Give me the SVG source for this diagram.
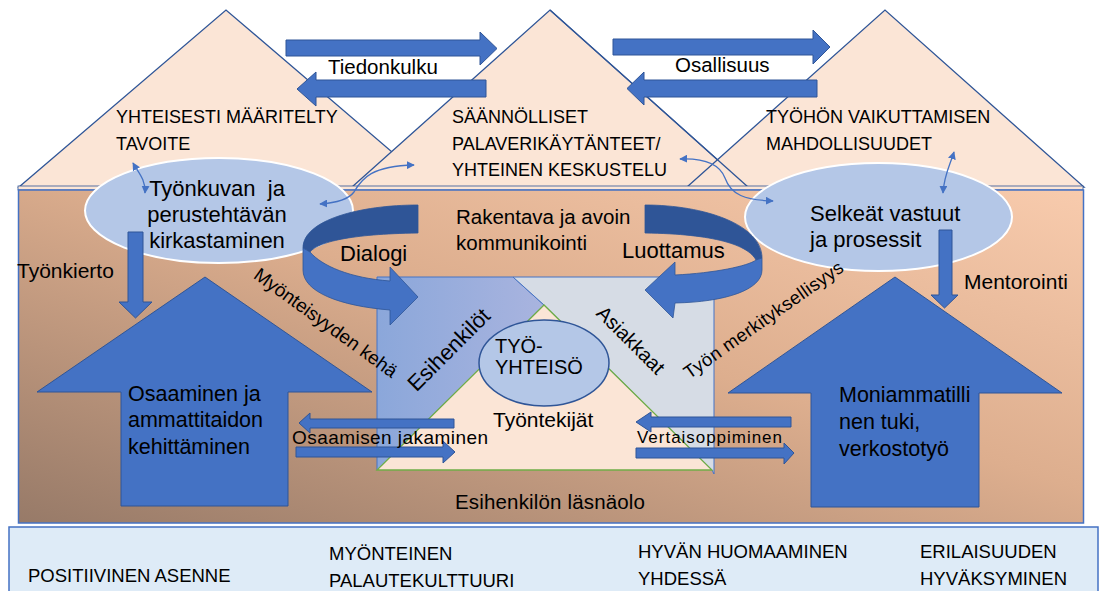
<svg xmlns="http://www.w3.org/2000/svg" width="1099" height="591" viewBox="0 0 1099 591">
<defs>
<linearGradient id="boxg" x1="1" y1="0" x2="0" y2="1">
<stop offset="0" stop-color="#F8CBAD"/>
<stop offset="0.45" stop-color="#DDAE8E"/>
<stop offset="1" stop-color="#977A68"/>
</linearGradient>
<linearGradient id="sqg" x1="0" y1="0" x2="1" y2="0">
<stop offset="0" stop-color="#8BA7DA"/>
<stop offset="1" stop-color="#A9B4DF"/>
</linearGradient>
<marker id="ah" viewBox="0 0 10 10" refX="9" refY="5" markerWidth="8" markerHeight="8" markerUnits="userSpaceOnUse" orient="auto-start-reverse">
<path d="M0,0 L10,5 L0,10 z" fill="#4472C4"/>
</marker>
<style>
.roof{fill:#FBE5D6;stroke:#2F5597;stroke-width:1.3}
.edge{fill:none;stroke:#2F5597;stroke-width:1.3}
.blk{fill:#4472C4;stroke:#2F5597;stroke-width:1}
.ell{fill:#B4C7E7;stroke:#FFFFFF;stroke-width:2}
.dark{fill:#2F5597;stroke:#2F5597;stroke-width:0.8}
.front{fill:#4472C4;stroke:#2F5597;stroke-width:0.8}
.con{fill:none;stroke:#4472C4;stroke-width:1.3;marker-start:url(#ah);marker-end:url(#ah)}
text{font-family:"Liberation Sans",Arial,sans-serif;fill:#000}
.s18{font-size:18px}
.s185{font-size:18.5px}
.s20{font-size:20px}
.s205{font-size:20.5px}
.s21{font-size:21px}
.s215{font-size:21.5px}
.s22{font-size:22px}
</style>
</defs>

<g id="roof">
<polygon class="roof" points="19,187 226,10 433,187"/>
<polygon class="roof" points="352,187 550,10 748,187"/>
<polygon class="roof" points="687,187 885,10 1084,187"/>
<polyline class="edge" points="550,10 748,187"/>
<rect x="18" y="186" width="1065" height="4" fill="#FBE5D6" stroke="#2F5597" stroke-width="0.8"/>
<text class="s18" x="116" y="123">YHTEISESTI MÄÄRITELTY</text>
<text class="s18" x="116" y="150">TAVOITE</text>
<text class="s18" x="452" y="123">SÄÄNNÖLLISET</text>
<text class="s18" x="452" y="150">PALAVERIKÄYTÄNTEET/</text>
<text class="s18" x="452" y="176">YHTEINEN KESKUSTELU</text>
<text class="s18" x="766" y="123">TYÖHÖN VAIKUTTAMISEN</text>
<text class="s18" x="766" y="150">MAHDOLLISUUDET</text>
</g>

<g id="box">
<rect x="18.5" y="190" width="1065" height="333" fill="url(#boxg)" stroke="#4472C4" stroke-width="1.5"/>
</g>

<g id="tyoyhteiso-square">
<polygon points="377,277 513,277 544,305 377,470" fill="url(#sqg)" stroke="#4472C4" stroke-width="1"/>
<polygon points="513,277 714,277 714,474 712,470 544,305" fill="#D6DCE5" stroke="#4472C4" stroke-width="1"/>
<polygon points="544,305 377,470 712,470" fill="#FBE5D6" stroke="#70AD47" stroke-width="1.3"/>
</g>

<g id="osaaminen">
<polygon class="blk" points="205,277 372,392 288,392 288,506 121,506 121,392 37,392"/>
<text class="s215" x="128" y="401">Osaaminen ja</text>
<text class="s215" x="128" y="427">ammattitaidon</text>
<text class="s215" x="128" y="454">kehittäminen</text>
</g>

<g id="moniammatillinen">
<polygon class="blk" points="895,277 1062,393 979,393 979,507 811,507 811,393 728,393"/>
<text class="s215" x="839" y="402">Moniammatilli</text>
<text class="s215" x="839" y="429">nen tuki,</text>
<text class="s215" x="839" y="456">verkostotyö</text>
</g>

<g id="tyonkuva">
<ellipse class="ell" cx="219" cy="210.5" rx="134" ry="52.5"/>
<text class="s22" x="217" y="196" text-anchor="middle" xml:space="preserve">Työnkuvan  ja</text>
<text class="s22" x="217" y="222" text-anchor="middle">perustehtävän</text>
<text class="s22" x="217" y="248" text-anchor="middle">kirkastaminen</text>
</g>

<g id="selkeat">
<ellipse class="ell" cx="878.5" cy="217" rx="133.5" ry="54"/>
<text class="s22" x="810" y="221">Selkeät vastuut</text>
<text class="s22" x="810" y="247">ja prosessit</text>
</g>

<g id="dialogi">
<path class="dark" d="M418,205 C360,205 303,220 303,248 L310,252 C318,242 350,234 418,233 Z"/>
<path class="front" d="M303,248 L310,252 C322,266 350,278 390,281 L390,267 L418,297 L390,325 L390,310 C340,306 303,292 303,270 Z"/>
<text class="s22" x="340" y="261">Dialogi</text>
</g>

<g id="luottamus">
<path class="dark" d="M645,205 C705,205 762,225 762,258 L756,260 C748,245 715,234 645,233 Z"/>
<path class="front" d="M762,258 L762,270 C762,290 725,302 675,303 L673,318 L645,290 L675,262 L675,275 C715,273 748,266 756,260 Z"/>
<text class="s22" x="622" y="258">Luottamus</text>
</g>

<g id="kommunikointi">
<text class="s205" x="456" y="224">Rakentava ja avoin</text>
<text class="s205" x="456" y="250">kommunikointi</text>
</g>

<g id="tyoyhteiso">
<ellipse cx="544" cy="363" rx="65" ry="43" fill="#B4C7E7" stroke="#2F5597" stroke-width="1.5"/>
<text class="s20" x="495" y="353">TYÖ-</text>
<text class="s20" x="495" y="374">YHTEISÖ</text>
<text class="s21" x="493" y="427">Työntekijät</text>
<text class="s22" transform="rotate(-45 454 355)" x="454" y="355" text-anchor="middle">Esihenkilöt</text>
<text class="s20" transform="rotate(45 626 345)" x="626" y="345" text-anchor="middle">Asiakkaat</text>
</g>

<g id="labels">
<text class="s21" x="17" y="278">Työnkierto</text>
<text class="s21" x="964" y="289">Mentorointi</text>
<text font-size="19" transform="rotate(36 322 328)" x="322" y="328" text-anchor="middle" textLength="172">Myönteisyyden kehä</text>
<text class="s185" transform="rotate(-35 767 325)" x="767" y="325" text-anchor="middle" textLength="190">Työn merkityksellisyys</text>
<text class="s205" x="455" y="509" textLength="190">Esihenkilön läsnäolo</text>
</g>

<g id="bottom-panel">
<rect x="9" y="527" width="1089" height="70" fill="#DEEBF7" stroke="#4472C4" stroke-width="1.5"/>
<text class="s185" x="28" y="582">POSITIIVINEN ASENNE</text>
<text class="s185" x="329" y="560">MYÖNTEINEN</text>
<text class="s185" x="329" y="587">PALAUTEKULTTUURI</text>
<text class="s185" x="638" y="558">HYVÄN HUOMAAMINEN</text>
<text class="s185" x="638" y="585">YHDESSÄ</text>
<text class="s185" x="920" y="558">ERILAISUUDEN</text>
<text class="s185" x="920" y="585">HYVÄKSYMINEN</text>
</g>

<g id="connectors">
<polygon class="blk" points="286,40 480,40 480,32 497,48.5 480,65 480,56 286,56"/>
<polygon class="blk" points="486,80 316,80 316,72 297,89 316,106 316,97 486,97"/>
<polygon class="blk" points="613,39 813,39 813,30 830,47 813,64 813,55 613,55"/>
<polygon class="blk" points="817,80 644,80 644,72 627,88.5 644,105 644,97 817,97"/>
<text class="s205" x="328" y="74">Tiedonkulku</text>
<text class="s205" x="675" y="72">Osallisuus</text>
<polygon class="blk" points="128,232 143,232 143,302 152,302 135.5,318 119,302 128,302"/>
<polygon class="blk" points="939,230 952,230 952,295 958,295 944.5,308 931,295 939,295"/>
<polygon class="blk" points="454,419 310,419 310,413 299,423 310,433 310,428 454,428"/>
<polygon class="blk" points="296,447 443,447 443,441 455,452 443,463 443,457 296,457"/>
<text font-size="19" x="292" y="444" textLength="196">Osaamisen jakaminen</text>
<polygon class="blk" points="791,417 651,417 651,412 636,422 651,432 651,427 791,427"/>
<polygon class="blk" points="636,448 784,448 784,443 794,453 784,464 784,458 636,458"/>
<text font-size="17" x="637" y="443" textLength="145">Vertaisoppiminen</text>
<path class="con" d="M133,163 C138,172 146,180 145,193"/>
<path class="con" d="M320,204 C335,203 348,200 354,192 C362,178 372,166 414,165"/>
<path class="con" d="M680,159 C705,158 720,165 725,178 C731,195 745,200 773,201"/>
<path class="con" d="M954,152 C950,165 944,175 943,193"/>
</g>
</svg>
